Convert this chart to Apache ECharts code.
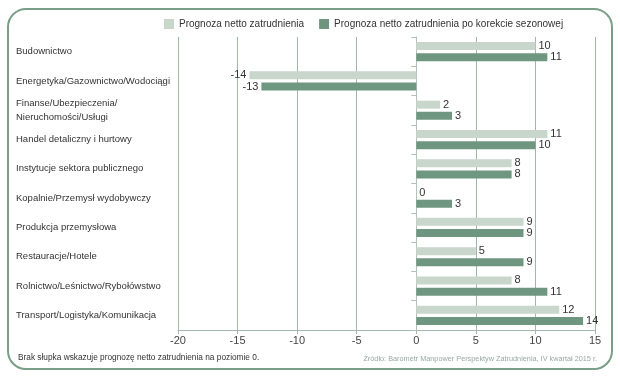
<!DOCTYPE html>
<html><head><meta charset="utf-8">
<script src="https://cdn.jsdelivr.net/npm/echarts@6/dist/echarts.min.js"></script>
<style>html,body{margin:0;padding:0;background:#fff}#c{width:620px;height:379px}</style>
</head><body><div id="c"></div>
<script>
var categories = [
  'Budownictwo',
  'Energetyka/Gazownictwo/Wodociągi',
  'Finanse/Ubezpieczenia/\nNieruchomości/Usługi',
  'Handel detaliczny i hurtowy',
  'Instytucje sektora publicznego',
  'Kopalnie/Przemysł wydobywczy',
  'Produkcja przemysłowa',
  'Restauracje/Hotele',
  'Rolnictwo/Leśnictwo/Rybołówstwo',
  'Transport/Logistyka/Komunikacja'
];
var seriesNames = ['Prognoza netto zatrudnienia', 'Prognoza netto zatrudnienia po korekcie sezonowej'];
var netto = [10, -14, 2, 11, 8, 0, 9, 5, 8, 12];
var nettoSezon = [11, -13, 3, 10, 8, 3, 9, 9, 11, 14];
var xTicks = [-20, -15, -10, -5, 0, 5, 10, 15];
var footLeft = 'Brak słupka wskazuje prognozę netto zatrudnienia na poziomie 0.';
var footRight = 'Źródło: Barometr Manpower Perspektyw Zatrudnienia, IV kwartał 2015 r.';

var FONT = '"Liberation Sans", Arial, sans-serif';
function mk(vals) {
  return vals.map(function (v) {
    return { value: v, label: { position: v < 0 ? 'left' : 'right' } };
  });
}
var chart = echarts.init(document.getElementById('c'), null, { renderer: 'canvas' });
chart.setOption({
  animation: false,
  textStyle: { fontFamily: FONT },
  graphic: [
    { type: 'rect', shape: { x: 8, y: 9, width: 604, height: 360, r: 18 },
      style: { fill: 'none', stroke: '#7a9e88', lineWidth: 2 }, z: 0 },
    { type: 'text', left: 18, top: 354,
      style: { text: footLeft, font: '8.3px ' + FONT, fill: '#333' } },
    { type: 'text', right: 23, top: 355,
      style: { text: footRight, font: '7.3px ' + FONT, fill: '#9aa9a0' } }
  ],
  legend: {
    top: 14, left: 159, itemWidth: 10, itemHeight: 10, itemGap: 15,
    icon: 'rect',
    textStyle: { fontSize: 10, color: '#333', fontFamily: FONT },
    data: seriesNames
  },
  grid: { left: 178, right: 25, top: 37, bottom: 49, containLabel: false },
  xAxis: {
    type: 'value', min: -20, max: 15, interval: 5,
    axisLine: { show: true, lineStyle: { color: '#a9b8ae', width: 1 } },
    axisTick: { show: true, length: 4, lineStyle: { color: '#a9b8ae' } },
    axisLabel: { fontSize: 11, color: '#444', margin: 5,
      formatter: function (v) { return xTicks.indexOf(v) >= 0 ? String(v) : ''; } },
    splitLine: { show: true, lineStyle: { color: '#9fb8a8', width: 1 } }
  },
  yAxis: {
    type: 'category', inverse: true, data: categories,
    axisLine: { show: true, lineStyle: { color: '#b3c2b8', width: 1 } },
    axisTick: { show: true, length: 5, lineStyle: { color: '#b3c2b8' } },
    axisLabel: { align: 'left', margin: 162, fontSize: 9.5, color: '#333', lineHeight: 14 },
    splitLine: { show: false }
  },
  series: [
    { name: seriesNames[0], type: 'bar', data: mk(netto), barWidth: 8, barGap: '40%',
      itemStyle: { color: '#c9d6cc' },
      label: { show: true, fontSize: 11, color: '#333', distance: 3 } },
    { name: seriesNames[1], type: 'bar', data: mk(nettoSezon), barWidth: 8, barGap: '40%',
      itemStyle: { color: '#6f9680' },
      label: { show: true, fontSize: 11, color: '#333', distance: 3 } }
  ]
});
</script></body></html>
